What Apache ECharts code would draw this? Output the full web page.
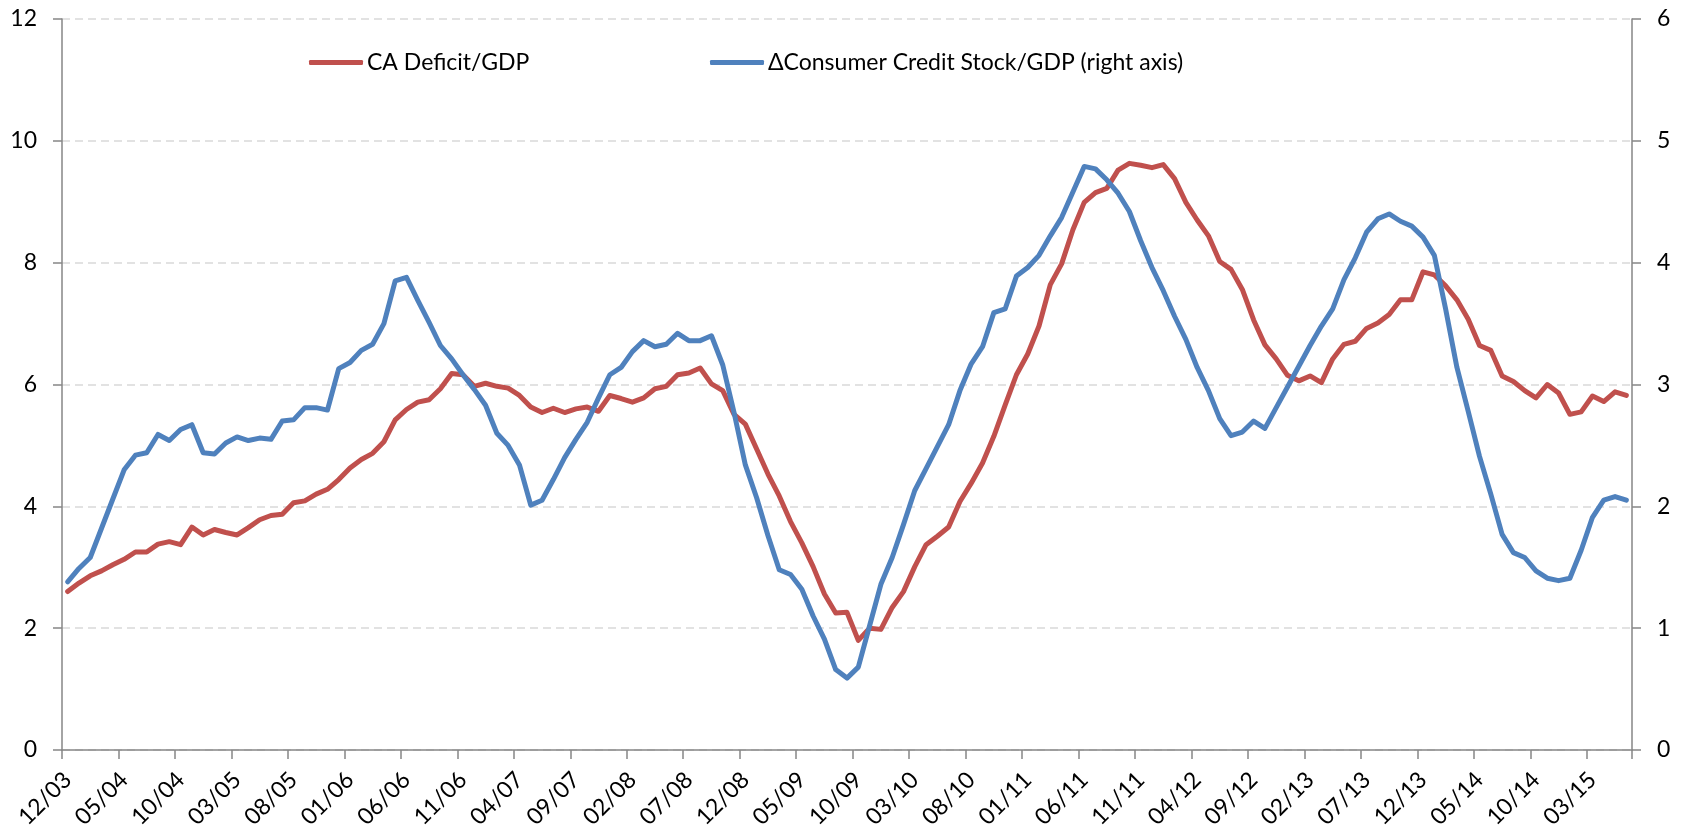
<!DOCTYPE html>
<html>
<head>
<meta charset="utf-8">
<script src="https://cdn.jsdelivr.net/npm/echarts@6/dist/echarts.min.js"></script>
<style>
html,body{margin:0;padding:0;background:#fff;}
#chart{width:1688px;height:835px;}
</style>
</head>
<body>
<div id="chart"></div>
<script>
const categories = [
"12/03",
"01/04","02/04","03/04","04/04","05/04","06/04","07/04","08/04","09/04","10/04","11/04","12/04",
"01/05","02/05","03/05","04/05","05/05","06/05","07/05","08/05","09/05","10/05","11/05","12/05",
"01/06","02/06","03/06","04/06","05/06","06/06","07/06","08/06","09/06","10/06","11/06","12/06",
"01/07","02/07","03/07","04/07","05/07","06/07","07/07","08/07","09/07","10/07","11/07","12/07",
"01/08","02/08","03/08","04/08","05/08","06/08","07/08","08/08","09/08","10/08","11/08","12/08",
"01/09","02/09","03/09","04/09","05/09","06/09","07/09","08/09","09/09","10/09","11/09","12/09",
"01/10","02/10","03/10","04/10","05/10","06/10","07/10","08/10","09/10","10/10","11/10","12/10",
"01/11","02/11","03/11","04/11","05/11","06/11","07/11","08/11","09/11","10/11","11/11","12/11",
"01/12","02/12","03/12","04/12","05/12","06/12","07/12","08/12","09/12","10/12","11/12","12/12",
"01/13","02/13","03/13","04/13","05/13","06/13","07/13","08/13","09/13","10/13","11/13","12/13",
"01/14","02/14","03/14","04/14","05/14","06/14","07/14","08/14","09/14","10/14","11/14","12/14",
"01/15","02/15","03/15","04/15","05/15","06/15"
];

const caDeficit = [
2.60,2.74,2.86,2.94,3.04,3.13,3.25,3.25,3.38,3.42,3.37,3.66,3.53,3.62,3.57,3.53,3.65,3.78,3.85,3.87,
4.06,4.09,4.20,4.28,4.44,4.63,4.77,4.87,5.06,5.42,5.59,5.71,5.75,5.93,6.18,6.16,5.97,6.02,5.97,5.94,
5.82,5.63,5.54,5.61,5.54,5.60,5.63,5.56,5.82,5.77,5.71,5.78,5.93,5.97,6.16,6.19,6.27,6.01,5.90,5.51,
5.35,4.94,4.53,4.17,3.75,3.40,3.01,2.56,2.25,2.26,1.80,2.00,1.98,2.34,2.60,3.01,3.37,3.51,3.66,4.08,
4.38,4.71,5.15,5.66,6.16,6.50,6.96,7.64,7.98,8.54,8.99,9.15,9.22,9.52,9.63,9.60,9.56,9.61,9.38,8.99,
8.70,8.44,8.02,7.89,7.56,7.06,6.65,6.42,6.15,6.06,6.14,6.03,6.42,6.66,6.71,6.92,7.01,7.15,7.39,7.39,
7.85,7.80,7.62,7.39,7.07,6.64,6.56,6.14,6.05,5.90,5.78,6.00,5.86,5.51,5.55,5.81,5.72,5.88,5.82
];

const consumerCredit = [
1.38,1.49,1.58,1.82,2.06,2.30,2.42,2.44,2.59,2.54,2.63,2.67,2.44,2.43,2.52,2.57,2.54,2.56,2.55,2.70,
2.71,2.81,2.81,2.79,3.13,3.18,3.28,3.33,3.50,3.85,3.88,3.69,3.51,3.32,3.21,3.08,2.96,2.83,2.60,2.50,
2.34,2.01,2.05,2.22,2.40,2.55,2.69,2.89,3.08,3.14,3.27,3.36,3.31,3.33,3.42,3.36,3.36,3.40,3.16,2.77,
2.34,2.07,1.76,1.48,1.44,1.32,1.10,0.91,0.66,0.59,0.68,1.02,1.36,1.58,1.85,2.13,2.31,2.49,2.67,2.95,
3.17,3.31,3.59,3.62,3.89,3.96,4.06,4.22,4.37,4.58,4.79,4.77,4.68,4.57,4.42,4.18,3.96,3.77,3.56,3.37,
3.14,2.95,2.72,2.58,2.61,2.70,2.64,2.81,2.98,3.15,3.32,3.48,3.62,3.86,4.04,4.25,4.36,4.40,4.34,4.30,
4.21,4.06,3.62,3.14,2.78,2.41,2.10,1.77,1.62,1.58,1.47,1.41,1.39,1.41,1.64,1.91,2.05,2.08,2.05
];

const seriesNames = ["CA Deficit/GDP", "\u0394Consumer Credit Stock/GDP (right axis)"];

const FONT = "Lato, 'Open Sans', sans-serif";
const axisGray = "#868686";
const FS = 23;

const chart = echarts.init(document.getElementById('chart'), null, {renderer: 'canvas'});
chart.setOption({
  animation: false,
  backgroundColor: '#ffffff',
  textStyle: {fontFamily: FONT},
  grid: {left: 62, right: 56, top: 19, bottom: 85, containLabel: false},
  legend: [
    {
      data: [seriesNames[0]], left: 304, top: 46,
      icon: 'roundRect', itemWidth: 54, itemHeight: 5, itemGap: 0,
      textStyle: {fontFamily: FONT, fontSize: FS, color: '#000', padding: [0, 0, 0, -1]}
    },
    {
      data: [seriesNames[1]], left: 705, top: 46,
      icon: 'roundRect', itemWidth: 54, itemHeight: 5, itemGap: 0,
      textStyle: {fontFamily: FONT, fontSize: FS, color: '#000', padding: [0, 0, 0, -1]}
    }
  ],
  xAxis: {
    type: 'category',
    data: categories,
    boundaryGap: true,
    axisLine: {show: true, lineStyle: {color: axisGray, width: 1.5}},
    axisTick: {show: true, interval: 4, length: 9, lineStyle: {color: axisGray, width: 1.5}},
    axisLabel: {interval: 4, rotate: 45, margin: 26, fontSize: FS, color: '#000', fontFamily: FONT},
    splitLine: {show: false}
  },
  yAxis: [
    {
      type: 'value', min: 0, max: 12, interval: 2, position: 'left',
      axisLine: {show: true, lineStyle: {color: axisGray, width: 1.5}},
      axisTick: {show: true, length: 9, lineStyle: {color: axisGray, width: 1.5}},
      axisLabel: {margin: 25, fontSize: FS, color: '#000', fontFamily: FONT},
      splitLine: {show: true, lineStyle: {color: '#d9d9d9', width: 1.5, type: [8, 5]}}
    },
    {
      type: 'value', min: 0, max: 6, interval: 1, position: 'right',
      axisLine: {show: true, lineStyle: {color: axisGray, width: 1.5}},
      axisTick: {show: true, length: 9, lineStyle: {color: axisGray, width: 1.5}},
      axisLabel: {margin: 25, fontSize: FS, color: '#000', fontFamily: FONT},
      splitLine: {show: false}
    }
  ],
  series: [
    {
      name: seriesNames[0], type: 'line', yAxisIndex: 0, data: caDeficit,
      symbol: 'none', showSymbol: false,
      lineStyle: {color: '#C0504D', width: 5, cap: 'round', join: 'round'},
      itemStyle: {color: '#C0504D'}, z: 3
    },
    {
      name: seriesNames[1], type: 'line', yAxisIndex: 1, data: consumerCredit,
      symbol: 'none', showSymbol: false,
      lineStyle: {color: '#4F81BD', width: 5, cap: 'round', join: 'round'},
      itemStyle: {color: '#4F81BD'}, z: 4
    }
  ]
});
</script>
</body>
</html>
